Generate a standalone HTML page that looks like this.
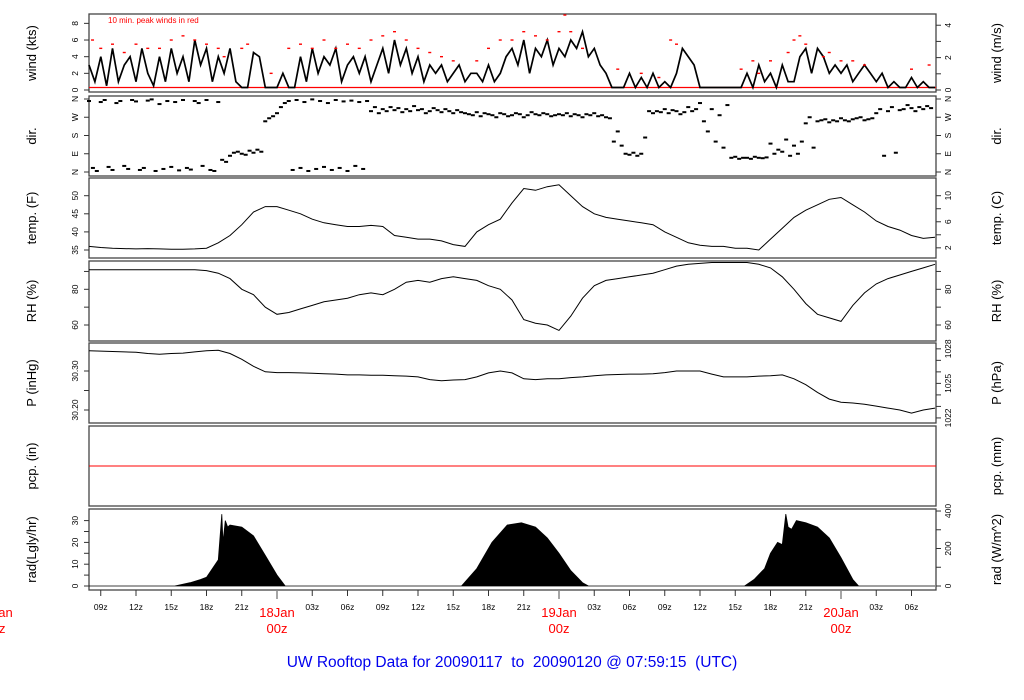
<!DOCTYPE html>
<html><head><meta charset="utf-8"><style>
html,body{margin:0;padding:0;background:#fff;}
svg{display:block;font-family:"Liberation Sans",sans-serif;}
</style></head><body>
<svg id="chart" width="1024" height="700" viewBox="0 0 1024 700" xmlns="http://www.w3.org/2000/svg">
<text x="512" y="667" text-anchor="middle" font-size="15.5" fill="#0000ee" style="white-space:pre" xml:space="preserve">UW Rooftop Data for 20090117  to  20090120 @ 07:59:15  (UTC)</text>
<text x="108" y="23" font-size="8" fill="#ff0000">10 min. peak winds in red</text>
</svg>
<script>
// ---- data (hours since 08:00Z 17 Jan) ----
const windVals=[3,1,4,0.5,5,1,3,4,1,5,2,0.5,4,1, 5,2,4,1,6,3,5,1,4,2,5,1, 0,0,4.5,4,0,0, 0,2,0,0, 4,1,5,2,4,3,5,1,3,4, 2,4,1,3,5,2,6,3,5,2, 4,1,3,2,3,1,2,3,1,2, 2,1,3,1,2,4, 5,3,6,2,5,4,6,3,5,4, 6,5,7,4,5,3, 2,0,0,0, 2,0,1.5,0, 2,0,1,0,2, 5,4,3, 0,0,0,0,0,0,0,0, 2,0,3,1,2,0,3,1, 1,4,5,2, 5,4,2, 3,2,3,1,2,3,2,1,2, 0,1,0,0,1.5,0,1,0,0,1,0.5];
const gustHours=[0.3,1,2,3,4,5,6,7,8,9,10,11,11.5,13,13.5,15.5,17,18,19,20,21,22,23,24,25,26,27,28,29,30,31,33,34,35,36,37,38,39,40,40.5,41,42,45,47,48.5,49.5,50,55.5,56.5,57,58,59.5,60,60.5,61,62.5,63,64,65,66,70,71.5];
const gustVals=[6,5,5.5,4.5,5.5,5,5,6,6.5,6,5.5,5,4,5,5.5,2,5,5.5,5,6,5,5.5,5,6,6.5,7,6,5,4.5,4,3.5,3.5,5,6,6,7,6.5,6,7,9,7,5,2.5,2,1.5,6,5.5,2.5,3.5,2,3.5,4.5,6,6.5,5.5,4,4.5,3.5,3.5,3,2.5,3];
const dirDeg=[350,20,5,345,355,25,10,340,350,30,15,355,348,10,20,352,358,5,335,15,350,25,345,8,355,20,12,350,340,30,355,10,5,345,60,50, 80,95,100,90,85,105,95,110,100, 250,265,275,290,320,340, 350,10,355,20,345,5,358,15,350,25,340,10,355,20,348,5,352,30,345,15,350,300,320,290, 310,300,320,305,315,295,310,300,325,305,310,290,300,315,305,295,310,300,290,305,295, 290,285,280,295,275,290,285,280,270,290,285,275,280,290,285,270,280,295,285,280,290,285,275,280, 285,280,290,275,285,280,270,285,280,290,275,280,270,265,150, 200,130,90,85,95,80,90,170,300, 290,300,295,310,290,305,300,285,295,320,300,310, 340,250,200,310,150,280,120,330,70,75,65,70, 70,65,75,70,68,72,140,90,110, 100,160,80,130,90,150,240,270,120, 250,255,260,245,255,250,265,255,250,260,265,270,255,260,265, 290,310,80,300,320,95,305,310,330,315,300,320,310,325,315];
const tempF=[36,35.7,35.5,35.4,35.3,35.4,35.3,35.2,35.2,35.3,35.5,37,39,42,45.5,47,47,46,45,43.5,42.5,42,41.5,41.5,41.8,41.5,39,38.5,38,38,37.5,36.5,36,40,42,43.5,48,52,51.5,52.5,53,50,47,45,44,43.5,43,42.5,42,40,38.5,37,36.3,36,36,35.5,35.5,35,38,41,44,46,47.5,49,49.5,47.5,45.5,43,41.5,40.5,39,38.2,38.5];
const rhPct=[91,91,91,91,91,91,91,91,91,91,90.5,89,86,80,77,70,66,67,69,71,73,74,75,77,78,77,80,84,85,84,86,87,86,85,82,80,74,63,61,60,57,65,75,82,85,86,87,88,89,91,93,94,94.5,95,95,95,95,94,92,87,80,72,66,64,62,71,78,83,86,88,90,92,94];
const presIn=[30.352,30.351,30.350,30.349,30.348,30.345,30.343,30.345,30.346,30.349,30.352,30.353,30.345,30.330,30.312,30.298,30.296,30.296,30.295,30.294,30.293,30.292,30.290,30.290,30.289,30.289,30.288,30.287,30.285,30.278,30.275,30.277,30.278,30.285,30.295,30.300,30.295,30.280,30.278,30.280,30.280,30.283,30.285,30.288,30.290,30.291,30.292,30.292,30.293,30.296,30.300,30.300,30.300,30.292,30.285,30.285,30.285,30.287,30.288,30.290,30.280,30.265,30.245,30.228,30.220,30.218,30.215,30.210,30.205,30.200,30.192,30.200,30.205];
const radHours=[0,7.3,8.6,9.5,10,10.5,11,11.3,11.4,11.6,11.8,12,13,14,15,16,16.7,31.7,33,34.3,35.6,36.8,38,39,40,41,42,42.5,55.8,56.6,57.5,58,58.6,59,59.3,59.5,59.8,60.2,61,62,63,64,65,65.5,72];
const radVals=[0,0,1.5,3,4,8,12,33,20,30,27,28,27,23,14,5,0,0,8,20,28,29,27,22,15,7,1.5,0,0,3,8,15,20,19,33,27,26,30,29,27,22,13,3,0,0];
const hourTicks=["09z","12z","15z","18z","21z","","03z","06z","09z","12z","15z","18z","21z","","03z","06z","09z","12z","15z","18z","21z","","03z","06z"];
const dayLabels=["17Jan","18Jan","19Jan","20Jan"];

const NS="http://www.w3.org/2000/svg";
const svg=document.getElementById('chart');
function el(tag,attrs,parent){const e=document.createElementNS(NS,tag);for(const k in attrs)e.setAttribute(k,attrs[k]);(parent||svg).appendChild(e);return e;}
const X0=89,X1=936,PXH=11.75;
const xh=h=>X0+h*PXH;
const panels=[
 {n:'wind',t:14,b:92,l:'wind (kts)',r:'wind (m/s)'},
 {n:'dir',t:96,b:176,l:'dir.',r:'dir.'},
 {n:'temp',t:178,b:258,l:'temp. (F)',r:'temp. (C)'},
 {n:'rh',t:261,b:341,l:'RH (%)',r:'RH (%)'},
 {n:'pres',t:343,b:423,l:'P (inHg)',r:'P (hPa)'},
 {n:'pcp',t:426,b:506,l:'pcp. (in)',r:'pcp. (mm)'},
 {n:'rad',t:509,b:590,l:'rad(Lgly/hr)',r:'rad (W/m^2)'}];
panels.forEach(p=>{
 const r=el('rect',{x:X0,y:p.t,width:X1-X0,height:p.b-p.t,fill:'none',stroke:'#444','stroke-width':1.3});
 
 
 const cy=(p.t+p.b)/2;
 const a=el('text',{x:0,y:0,transform:`translate(36,${cy}) rotate(-90)`,'text-anchor':'middle','font-size':13});a.textContent=p.l;
 
 
 const b=el('text',{x:0,y:0,transform:`translate(1001,${cy}) rotate(-90)`,'text-anchor':'middle','font-size':13});b.textContent=p.r;
 
 
});
function ytick(side,y,label,name){
 const x=side==='l'?X0:X1, d=side==='l'?-5:5;
 el('line',{x1:x,y1:y,x2:x+d,y2:y,stroke:'#333'});
 if(label!==''){const t=el('text',{x:0,y:0,transform:`translate(${side==='l'?78:951},${y}) rotate(-90)`,'text-anchor':'middle','font-size':8.5});t.textContent=label;
 
 }
}
// scales
const yWind=v=>90-v*8.33;
const yDir=d=>172-d*0.2028;
const yTemp=f=>250-(f-35)*3.62;
const yRH=v=>289.3-(v-80)*1.785;
const yP=v=>371-(v-30.30)*390;
const yRad=v=>586-v*2.18;
// ticks
[0,2,4,6,8].forEach(v=>ytick('l',yWind(v),v,'wind-kts-tick'));
[0,1,2,3,4].forEach(v=>ytick('r',yWind(v*1.944),v%2===0?v:'','wind-ms-tick'));
['N','E','S','W','N'].forEach((s,i)=>{ytick('l',yDir(i*90),s,'dir-tick');ytick('r',yDir(i*90),s,'dir-tick-right');});
[35,40,45,50].forEach(v=>ytick('l',yTemp(v),v,'temp-f-tick'));
[2,4,6,8,10].forEach(c=>ytick('r',yTemp(c*1.8+32),c%4===2?c:'','temp-c-tick'));
[60,70,80,90].forEach(v=>ytick('l',yRH(v),v%20===0?v:'','rh-tick'));
[60,70,80,90].forEach(v=>ytick('r',yRH(v),v%20===0?v:'','rh-tick-right'));
[30.20,30.25,30.30].forEach(v=>ytick('l',yP(v),v===30.25?'':v.toFixed(2),'pres-in-tick'));
[1022,1023,1024,1025,1026,1027,1028].forEach(v=>ytick('r',yP(v*0.02953),(v-1022)%3===0?v:'','pres-hpa-tick'));
[0,5,10,15,20,25,30].forEach(v=>ytick('l',yRad(v),v%10===0?v:'','rad-tick'));
[0,100,200,300,400].forEach(v=>ytick('r',yRad(v/11.63),v%200===0?v:'','rad-wm2-tick'));
function path(pts,attrs,name){const d=pts.map((p,i)=>(i?'L':'M')+p[0].toFixed(1)+','+p[1].toFixed(1)).join('');const e=el('path',Object.assign({d,fill:'none'},attrs));return e;}
// wind
el('line',{x1:X0,y1:87.5,x2:X1,y2:87.5,stroke:'#ff0000','stroke-width':1.2});
path(windVals.map((v,i)=>[xh(i*0.5),Math.min(yWind(v),87.5)]).filter(p=>p[0]<=X1),{stroke:'#000','stroke-width':1.7},'wind-line');
gustVals.forEach((v,i)=>{const r=el('rect',{x:xh(gustHours[i])-1.5,y:yWind(v)-0.7,width:3,height:1.4,fill:'#ff0000'});
 
 });
// direction
dirDeg.forEach((d,i)=>{const r=el('rect',{x:xh(i/3)-2,y:yDir(d)-1,width:4,height:2,fill:'#000'});
 
 });
path(tempF.map((v,i)=>[xh(i),yTemp(v)]),{stroke:'#000','stroke-width':1},'temp-line');
path(rhPct.map((v,i)=>[xh(i),yRH(v)]),{stroke:'#000','stroke-width':1},'rh-line');
path(presIn.map((v,i)=>[xh(i),yP(v)]),{stroke:'#000','stroke-width':1},'pres-line');
const pl=el('line',{x1:X0,y1:466,x2:X1,y2:466,stroke:'#ff0000','stroke-width':1});


{const pts=radHours.map((h,i)=>[xh(h),yRad(radVals[i])]);
 const d='M'+xh(0)+','+yRad(0)+pts.map(p=>'L'+p[0].toFixed(1)+','+p[1].toFixed(1)).join('')+'L'+xh(72)+','+yRad(0)+'Z';
 const a=el('path',{d,fill:'#000',stroke:'#000','stroke-width':0.8});
 
 }
// x axis
hourTicks.forEach((lab,i)=>{const x=xh(1+i*3);
 el('line',{x1:x,y1:590,x2:x,y2:lab===''?599:596,stroke:lab===''?'#888':'#333','stroke-width':lab===''?1.5:1});
 if(lab){const t=el('text',{x,y:610,'text-anchor':'middle','font-size':8.5});t.textContent=lab;
 
 }});
dayLabels.forEach((lab,i)=>{const x=xh(16+(i-1)*24);
 const t=el('text',{x,y:617,'text-anchor':'middle','font-size':13,fill:'#ff0000'});t.textContent=lab;
 
 
 const u=el('text',{x,y:633,'text-anchor':'middle','font-size':13,fill:'#ff0000'});u.textContent='00z';
 
 });
</script>
</body></html>
